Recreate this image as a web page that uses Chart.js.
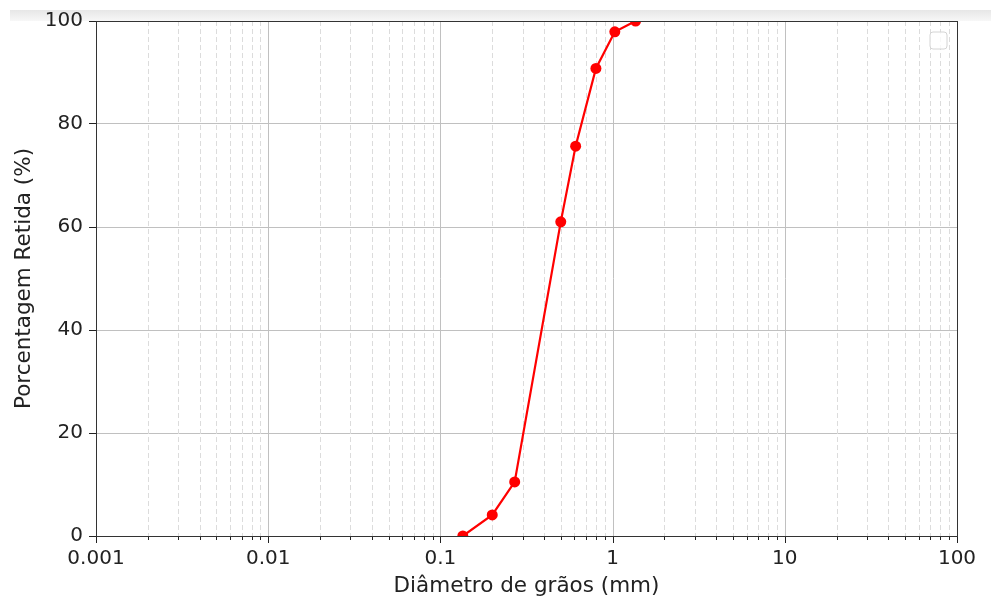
<!DOCTYPE html>
<html><head><meta charset="utf-8">
<script src="https://cdn.jsdelivr.net/npm/chart.js@4.4.0/dist/chart.umd.min.js"></script>
<style>
html,body{margin:0;padding:0;background:#fff;}
#wrap{position:relative;width:991px;height:596px;overflow:hidden;}
#band{position:absolute;left:10px;top:10px;width:981px;height:11px;background:linear-gradient(#e7e7e7,#f7f7f7);}
canvas{position:absolute;left:0;top:0;}
</style></head><body>
<div id="wrap"><div id="band"></div><canvas id="c" width="991" height="596"></canvas></div>
<script>
const diameters = [0.135, 0.2, 0.27, 0.5, 0.61, 0.8, 1.03, 1.36];
const retained = [0, 4.1, 10.5, 61.0, 75.7, 90.8, 97.9, 100];
const xTickLabels = ['0.001', '0.01', '0.1', '1', '10', '100'];
const xDecadeExponents = [-3, -2, -1, 0, 1, 2];
const yTickValues = [0, 20, 40, 60, 80, 100];
const xLabel = 'Diâmetro de grãos (mm)';
const yLabel = 'Porcentagem Retida (%)';

const FONT = 'DejaVu Sans';
const TEXT = '#222';

function isMajor(v) {
  const l = Math.log10(v);
  return Math.abs(l - Math.round(l)) < 1e-9;
}
function allLogTicks() {
  const out = [];
  for (let i = 0; i < xDecadeExponents.length; i++) {
    const e = xDecadeExponents[i];
    const base = Math.pow(10, e);
    if (i === xDecadeExponents.length - 1) { out.push(base); break; }
    for (let m = 1; m <= 9; m++) out.push(parseFloat((m * base).toPrecision(6)));
  }
  return out;
}

const mplPlugin = {
  id: 'mpl',
  beforeDatasetsDraw(chart) {
    const {ctx, chartArea: a, scales: {x}} = chart;
    ctx.save();
    ctx.beginPath(); ctx.rect(a.left, a.top, a.right - a.left, a.bottom - a.top); ctx.clip();
    x.ticks.forEach(t => {
      const px = Math.round(x.getPixelForValue(t.value)) + 0.5;
      ctx.beginPath();
      if (isMajor(t.value)) { ctx.setLineDash([]); ctx.strokeStyle = '#c0c0c0'; }
      else { ctx.setLineDash([5, 3]); ctx.strokeStyle = '#dcdcdc'; }
      ctx.lineWidth = 1;
      ctx.moveTo(px, a.top); ctx.lineTo(px, a.bottom); ctx.stroke();
    });
    ctx.restore();
  },
  afterDatasetsDraw(chart) {
    const {ctx, chartArea: a, scales: {x}} = chart;
    ctx.save();
    ctx.strokeStyle = '#222'; ctx.lineWidth = 1; ctx.setLineDash([]);
    x.ticks.forEach(t => {
      const px = Math.round(x.getPixelForValue(t.value)) + 0.5;
      const len = isMajor(t.value) ? 7 : 4;
      ctx.beginPath(); ctx.moveTo(px, a.bottom); ctx.lineTo(px, a.bottom + len); ctx.stroke();
    });
    ctx.strokeStyle = '#333';
    ctx.strokeRect(Math.round(a.left) + 0.5, Math.round(a.top) + 0.5, Math.round(a.right - a.left), Math.round(a.bottom - a.top));
    const w = 17, h = 17, lx = a.right - 27, ly = a.top + 11, r = 3;
    ctx.beginPath();
    ctx.moveTo(lx + r, ly); ctx.lineTo(lx + w - r, ly); ctx.quadraticCurveTo(lx + w, ly, lx + w, ly + r);
    ctx.lineTo(lx + w, ly + h - r); ctx.quadraticCurveTo(lx + w, ly + h, lx + w - r, ly + h);
    ctx.lineTo(lx + r, ly + h); ctx.quadraticCurveTo(lx, ly + h, lx, ly + h - r);
    ctx.lineTo(lx, ly + r); ctx.quadraticCurveTo(lx, ly, lx + r, ly);
    ctx.closePath();
    ctx.fillStyle = 'rgba(255,255,255,0.8)'; ctx.fill();
    ctx.strokeStyle = '#d4d4d4'; ctx.stroke();
    ctx.restore();
  }
};

new Chart(document.getElementById('c'), {
  type: 'line',
  data: {
    datasets: [{
      data: diameters.map((d, i) => ({x: d, y: retained[i]})),
      borderColor: '#ff0000',
      backgroundColor: '#ff0000',
      borderWidth: 2.2,
      pointRadius: 5.5,
      pointHoverRadius: 5.5,
      pointBorderWidth: 0,
      tension: 0,
      clip: 0
    }]
  },
  options: {
    responsive: false,
    animation: false,
    devicePixelRatio: 1,
    layout: {padding: {top: 21, right: 34, bottom: 0, left: 0}},
    plugins: {legend: {display: false}, tooltip: {enabled: false}},
    scales: {
      x: {
        type: 'logarithmic',
        position: 'bottom',
        min: 0.001, max: 100,
        afterBuildTicks: s => { s.ticks = allLogTicks().map(v => ({value: v})); },
        afterFit: s => { s.height = 60; },
        grid: {display: true, drawOnChartArea: false, drawTicks: true, tickLength: 7, color: 'rgba(0,0,0,0)'},
        border: {display: false},
        ticks: {
          autoSkip: false, maxRotation: 0, minRotation: 0, padding: 4,
          color: TEXT, font: {family: FONT, size: 20},
          callback: v => isMajor(v) ? xTickLabels[xDecadeExponents.indexOf(Math.round(Math.log10(v)))] : ''
        },
        title: {display: true, text: xLabel, color: TEXT, font: {family: FONT, size: 21.5}, padding: {top: 0, bottom: -3}}
      },
      y: {
        type: 'linear',
        min: 0, max: 100,
        afterBuildTicks: s => { s.ticks = yTickValues.map(v => ({value: v})); },
        afterFit: s => { s.width = 96; },
        grid: {color: '#c0c0c0', lineWidth: 1, tickLength: 7, tickColor: '#222', drawTicks: true},
        border: {display: false},
        ticks: {padding: 6, color: TEXT, font: {family: FONT, size: 20}},
        title: {display: true, text: yLabel, color: TEXT, font: {family: FONT, size: 21.5}, padding: {top: 12, bottom: 0}}
      }
    }
  },
  plugins: [mplPlugin]
});
</script>
</body></html>
